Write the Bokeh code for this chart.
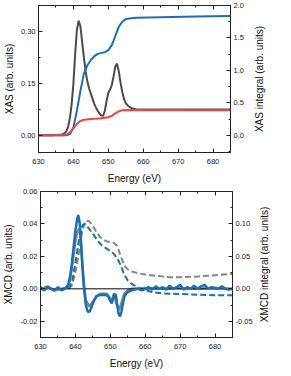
from bokeh.plotting import figure
from bokeh.models import Range1d, LinearAxis, SingleIntervalTicker, NumeralTickFormatter
from bokeh.layouts import column, row
from bokeh.embed import file_html
from bokeh.resources import INLINE

# ---------------- data: XAS panel ----------------
xas_e = [630, 634, 636, 637, 637.5, 638, 638.5, 639, 639.5, 640, 640.5, 641, 641.5, 642, 642.5,
         643, 643.5, 644, 644.5, 645, 645.5, 646, 646.5, 647, 647.5, 648, 648.5, 649, 649.5, 650,
         650.5, 651, 651.5, 652, 652.5, 653, 653.5, 654, 654.5, 655, 655.5, 656, 657, 658, 660, 670, 685]
xas_v = [0.0, 0.0, 0.001, 0.003, 0.006, 0.012, 0.025, 0.05, 0.09, 0.15, 0.235, 0.305, 0.331, 0.315, 0.27,
         0.225, 0.185, 0.155, 0.135, 0.12, 0.105, 0.09, 0.079, 0.07, 0.062, 0.057, 0.056, 0.07, 0.1, 0.122,
         0.132, 0.145, 0.17, 0.198, 0.207, 0.185, 0.152, 0.125, 0.105, 0.093, 0.087, 0.082, 0.077, 0.075, 0.074, 0.074, 0.074]

step_e = [630, 637, 638, 639, 640, 641, 642, 643, 645, 648, 650, 651, 652, 653, 654, 656, 685]
step_v = [0.0, 0.0, 0.002, 0.008, 0.02, 0.033, 0.041, 0.045, 0.047, 0.049, 0.052, 0.056, 0.063, 0.069, 0.072, 0.073, 0.072]

xint_e = [630, 638, 639, 640, 641, 642, 643, 644, 645, 646, 647, 648, 649, 650, 651, 652, 653, 654, 655, 656, 658, 665, 675, 685]
xint_v = [0.0, 0.0, 0.02, 0.12, 0.38, 0.68, 0.95, 1.08, 1.16, 1.22, 1.255, 1.27, 1.28, 1.31, 1.39, 1.53, 1.67, 1.75, 1.79, 1.80, 1.81, 1.82, 1.83, 1.84]

# ---------------- data: XMCD panel ----------------
mcd_b_e = [630, 631, 632, 633, 634, 635, 636, 637, 637.5, 638, 638.5, 639, 639.5, 640, 640.5,
           640.8, 641.2, 641.6, 642, 642.5, 643, 643.5, 644, 644.5, 645, 645.5, 646, 647, 648, 649,
           649.5, 650, 650.4, 650.8, 651.2, 651.6, 652, 652.4, 652.8, 653.2, 653.6, 654, 654.5, 655, 656,
           657, 658, 659, 660, 661, 662, 663, 664, 665, 666, 667, 668, 669, 670, 671, 672, 673, 674,
           675, 676, 677, 678, 679, 680, 681, 682, 683, 684, 685]
mcd_b_v = [0.001, -0.001, 0.001, 0.0, -0.001, 0.001, -0.001, 0.0, 0.001, 0.003, 0.008, 0.016, 0.026, 0.036, 0.043,
           0.0455, 0.041, 0.029, 0.013, -0.001, -0.01, -0.014, -0.0142, -0.012, -0.009, -0.0065, -0.0045, -0.0038, -0.0037, -0.004,
           -0.005, -0.0075, -0.009, -0.006, -0.003, -0.004, -0.01, -0.0155, -0.017, -0.014, -0.009, -0.005, -0.003, -0.002, -0.001,
           -0.0005, 0.0, -0.001, 0.0, 0.001, -0.0005, 0.0015, 0.0, 0.001, -0.0005, 0.002, 0.0, 0.001, 0.0025, -0.0005, 0.001, 0.0, 0.002,
           0.0, 0.0015, 0.0025, 0.0, 0.001, 0.0005, 0.0, 0.0015, 0.0, -0.0005, 0.0]

mcd_g_e = [630, 632, 634, 636, 637, 638, 638.5, 639, 639.5, 640, 640.5, 641, 641.5, 642, 642.5, 643, 644, 645, 646,
           647, 648, 649, 650, 650.5, 651, 652, 652.5, 653, 654, 655, 656, 660, 665, 670, 675, 680, 685]
mcd_g_v = [0.0, 0.0015, -0.001, 0.0, 0.0005, 0.002, 0.006, 0.013, 0.021, 0.029, 0.035, 0.037, 0.031, 0.016, 0.002, -0.007, -0.011, -0.008, -0.005,
           -0.003, -0.003, -0.003, -0.006, -0.007, -0.003, -0.011, -0.013, -0.01, -0.003, -0.001, 0.0, 0.0005, 0.0, 0.0005, 0.0, 0.0005, 0.0]

int_g_e = [638, 639, 640, 641, 642, 643, 644, 645, 646, 647, 648, 649, 650, 651, 652, 653, 654, 655, 656, 658,
           660, 663, 667, 670, 675, 680, 685]
int_g_v = [0.0, 0.005, 0.025, 0.055, 0.09, 0.105, 0.104, 0.097, 0.088, 0.08, 0.076, 0.073, 0.072, 0.071, 0.066, 0.05, 0.036, 0.03, 0.027, 0.024,
           0.022, 0.02, 0.018, 0.018, 0.019, 0.021, 0.023]

int_b_e = [638, 639, 640, 641, 642, 642.5, 643, 644, 645, 646, 647, 648, 649, 650, 651, 652, 653, 654, 655, 656,
           657, 658, 659, 660, 662, 665, 670, 675, 680, 685]
int_b_v = [0.0, 0.01, 0.04, 0.075, 0.098, 0.1, 0.098, 0.092, 0.085, 0.077, 0.07, 0.065, 0.062, 0.058, 0.054, 0.047, 0.036, 0.022, 0.013, 0.008,
           0.005, 0.002, 0.0, -0.002, -0.005, -0.007, -0.008, -0.009, -0.01, -0.01]

zero_e = [630, 685]
zero_v = [0.0, 0.0]

BLUE = "#1a6fb3"
DARK = "#4b4b4b"
RED = "#ee4540"
GRAY = "#858585"
FONT = "Liberation Sans"
TICK_FS = "7.5px"
LABEL_FS = "10px"
X0, X1 = 630, 685


def style_axis(ax, interval, fmt=None, labels=True):
    ax.ticker = SingleIntervalTicker(interval=interval, num_minor_ticks=2)
    if fmt:
        ax.formatter = NumeralTickFormatter(format=fmt)
    ax.major_tick_in = 4
    ax.major_tick_out = 0
    ax.minor_tick_in = 2
    ax.minor_tick_out = 0
    ax.axis_line_color = "#222222"
    ax.major_tick_line_color = "#222222"
    ax.minor_tick_line_color = "#222222"
    ax.major_label_text_font = FONT
    ax.major_label_text_color = "#222222"
    ax.major_label_standoff = 3
    ax.axis_label_text_font = FONT
    ax.axis_label_text_font_size = LABEL_FS
    ax.axis_label_text_font_style = "normal"
    ax.axis_label_text_color = "#111111"
    ax.axis_label_standoff = 3
    if labels:
        ax.major_label_text_font_size = TICK_FS
    else:
        ax.major_label_text_font_size = "0px"
        ax.major_label_text_alpha = 0
        ax.major_label_standoff = 0


def make_fig(yr, yr2, ylab, yint, yint2, yfmt, yfmt2, fh, bottom):
    p = figure(frame_width=192, frame_height=fh, x_range=Range1d(X0, X1), y_range=Range1d(*yr),
               output_backend="svg", toolbar_location=None,
               min_border_left=35, min_border_right=20, min_border_top=5, min_border_bottom=bottom)
    p.extra_y_ranges = {"r": Range1d(*yr2)}
    p.xgrid.visible = False
    p.ygrid.visible = False
    p.outline_line_color = "#222222"
    p.background_fill_color = "white"
    p.border_fill_color = "white"
    style_axis(p.xaxis[0], 10)
    p.xaxis[0].axis_label = "Energy (eV)"
    p.xaxis[0].major_label_standoff = 6
    p.xaxis[0].axis_label_standoff = 6
    style_axis(p.yaxis[0], yint, yfmt)
    p.yaxis[0].axis_label = ylab
    r_ax = LinearAxis(y_range_name="r")
    style_axis(r_ax, yint2, yfmt2)
    p.add_layout(r_ax, "right")
    t_ax = LinearAxis()
    style_axis(t_ax, 10, labels=False)
    p.add_layout(t_ax, "above")
    return p


def make_title_fig(yr, ylab2, fh, bottom):
    # narrow companion figure that carries the right-hand axis title,
    # so it reads bottom-to-top like the left one
    q = figure(frame_width=2, frame_height=fh, x_range=Range1d(X0, X1), y_range=Range1d(*yr),
               output_backend="svg", toolbar_location=None,
               min_border_left=14, min_border_right=0, min_border_top=5, min_border_bottom=bottom)
    q.xaxis.visible = False
    q.xgrid.visible = False
    q.ygrid.visible = False
    q.outline_line_color = None
    q.background_fill_color = "white"
    q.border_fill_color = "white"
    ax = q.yaxis[0]
    style_axis(ax, 1, labels=False)
    ax.major_tick_in = 0
    ax.minor_tick_in = 0
    ax.axis_line_color = None
    ax.major_tick_line_color = None
    ax.minor_tick_line_color = None
    ax.axis_label = ylab2
    ax.axis_label_standoff = 2
    return q


p1 = make_fig((-0.05, 0.375), (-0.265, 2.0), "XAS (arb. units)", 0.15, 0.5, "0.00", "0.0", 147, 33)
p1.line(xas_e, xas_v, line_color=DARK, line_width=2)
p1.line(xint_e, xint_v, line_color=BLUE, line_width=2, y_range_name="r")
p1.line(step_e, step_v, line_color=RED, line_width=2)
t1 = make_title_fig((-0.05, 0.375), "XAS integral (arb. units)", 147, 33)

p2 = make_fig((-0.03, 0.06), (-0.075, 0.15), "XMCD (arb. units)", 0.02, 0.05, "0.00", "0.00", 146, 34)
p2.line(int_g_e, int_g_v, line_color=GRAY, line_width=2, line_dash="6 3", y_range_name="r")
p2.line(int_b_e, int_b_v, line_color=BLUE, line_width=2, line_dash="6 3", y_range_name="r")
p2.line(mcd_g_e, mcd_g_v, line_color=GRAY, line_width=2.5)
p2.line(zero_e, zero_v, line_color="black", line_width=1)
p2.line(mcd_b_e, mcd_b_v, line_color=BLUE, line_width=2.5)
t2 = make_title_fig((-0.03, 0.06), "XMCD integral (arb. units)", 146, 34)

layout = column(row(p1, t1, spacing=0), row(p2, t2, spacing=0), spacing=0)
open("out.html", "w").write(file_html(layout, INLINE))
